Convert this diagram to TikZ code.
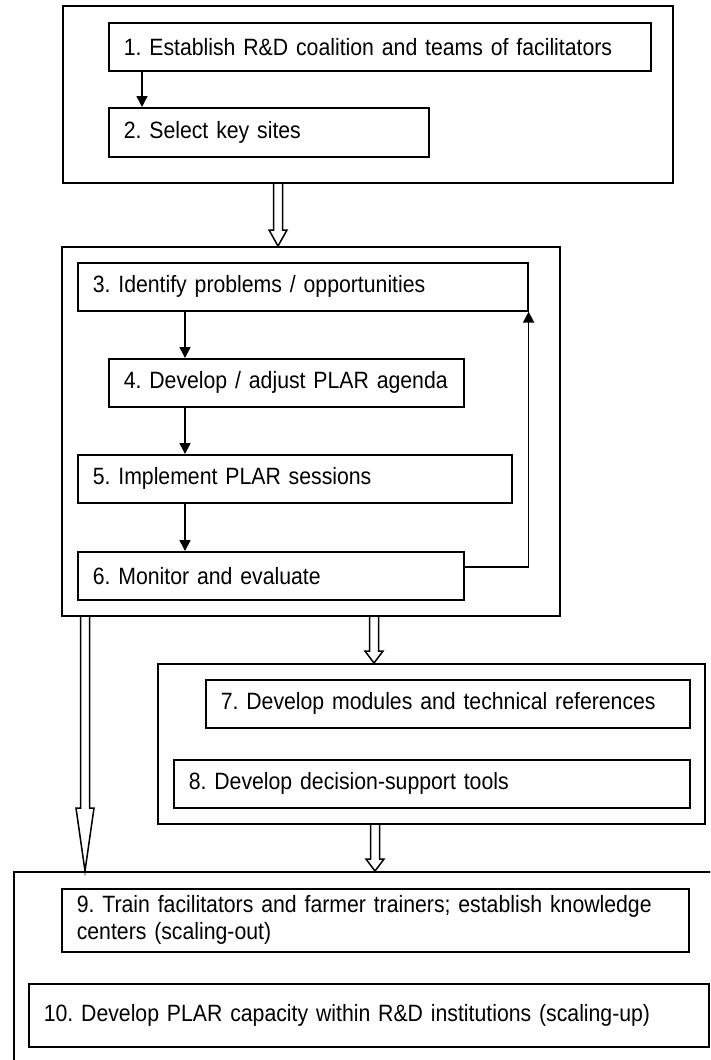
\documentclass[tikz,border=0pt]{standalone}
\usepackage{fontspec}
\setmainfont{Liberation Sans}[FakeStretch=0.9]
\usetikzlibrary{arrows.meta,calc}
\frenchspacing
\newcommand\hollowarrow[3]{%
  \draw[hollow] ($(#1)+(-4.5,0)$) -- ($(#2)+(-4.5,#3)$) -- ($(#2)+(-9,#3)$) -- (#2)
    -- ($(#2)+(9,#3)$) -- ($(#2)+(4.5,#3)$) -- ($(#1)+(4.5,0)$);}
\begin{document}
\begin{tikzpicture}[x=1pt,y=1pt,
  frame/.style={draw, line width=1.6pt, inner sep=0pt, anchor=north west},
  stepbox/.style={draw, line width=1.6pt, anchor=north west, inner xsep=15pt, inner ysep=0pt,
    align=left, font=\fontsize{23.6}{27}\selectfont\frenchspacing},
  arr/.style={line width=1.6pt, -{Triangle[length=11pt,width=11pt]}},
  hollow/.style={line width=1.5pt, line join=miter}]
\useasboundingbox (0,0) rectangle (710,-1060);
\clip (0,0) rectangle (710,-1060);
% group frames
\node[frame, minimum width=610pt, minimum height=177pt] (g1) at (62,-5) {};
\node[frame, minimum width=498pt, minimum height=369pt] (g2) at (61,-246) {};
\node[frame, minimum width=547pt, minimum height=160pt] (g3) at (157,-663) {};
\node[frame, minimum width=720pt, minimum height=220pt] (g4) at (13,-871) {};
% steps
\node[stepbox, minimum width=542pt, minimum height=48pt, text width=512pt] (b1) at (108,-22) {1. Establish R\&D coalition and teams of facilitators};
\node[stepbox, minimum width=320pt, minimum height=49pt, text width=290pt] (b2) at (108,-107) {2. Select key sites};
\node[stepbox, minimum width=450pt, minimum height=48pt, text width=420pt] (b3) at (77,-262) {3. Identify problems / opportunities};
\node[stepbox, minimum width=355pt, minimum height=48pt, text width=325pt] (b4) at (108,-358) {4. Develop / adjust PLAR agenda};
\node[stepbox, minimum width=434pt, minimum height=48pt, text width=404pt] (b5) at (77,-454) {5. Implement PLAR sessions};
\node[stepbox, minimum width=386pt, minimum height=48pt, text width=356pt] (b6) at (77,-551) {6. Monitor and evaluate};
\node[stepbox, minimum width=484pt, minimum height=48pt, text width=454pt] (b7) at (205,-679) {7. Develop modules and technical references};
\node[stepbox, minimum width=516pt, minimum height=48pt, text width=486pt] (b8) at (173,-759) {8. Develop decision-support tools};
\node[stepbox, minimum width=627pt, minimum height=63pt, text width=597pt] (b9) at (61,-888) {9. Train facilitators and farmer trainers; establish knowledge\\centers (scaling-out)};
\node[stepbox, minimum width=680pt, minimum height=63pt, text width=650pt] (b10) at (28,-983) {10. Develop PLAR capacity within R\&D institutions (scaling-up)};
% solid arrows
\draw[arr] (142,0 |- b1.south) -- (142,0 |- b2.north);
\draw[arr] (185,0 |- b3.south) -- (185,0 |- b4.north);
\draw[arr] (185,0 |- b4.south) -- (185,0 |- b5.north);
\draw[arr] (185,0 |- b5.south) -- (185,0 |- b6.north);
\draw[arr] ([yshift=9pt]b6.east) -| (b3.south east);
% hollow arrows
\coordinate (h1s) at (278,0 |- g1.south);
\coordinate (h1e) at (278,0 |- g2.north);
\hollowarrow{h1s}{h1e}{16}
\coordinate (h2s) at (374,0 |- g2.south);
\coordinate (h2e) at (374,0 |- g3.north);
\hollowarrow{h2s}{h2e}{12}
\coordinate (h3s) at (375,0 |- g3.south);
\coordinate (h3e) at (375,0 |- g4.north);
\hollowarrow{h3s}{h3e}{12}
\coordinate (h4s) at (85,0 |- g2.south);
\coordinate (h4e) at (85,0 |- g4.north);
\hollowarrow{h4s}{h4e}{63}
\end{tikzpicture}
\end{document}
